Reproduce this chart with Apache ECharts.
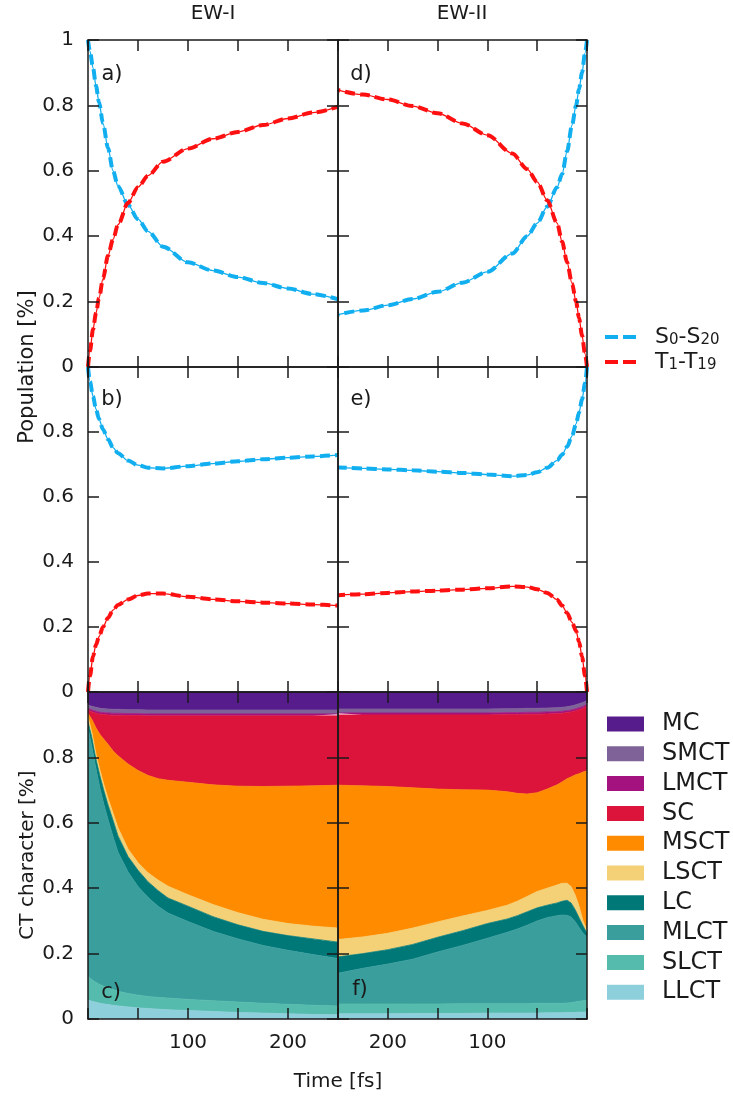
<!DOCTYPE html>
<html>
<head>
<meta charset="utf-8">
<script src="https://cdn.jsdelivr.net/npm/echarts@6/dist/echarts.min.js"></script>
<style>
  html, body { margin: 0; padding: 0; background: #fff; }
  #chart { width: 733px; height: 1107px; }
</style>
</head>
<body>
<div id="chart"></div>
<script>
// time grids [fs]
const timePop = [0, 2, 5, 8, 11, 15, 20, 25, 30, 40, 50, 60, 75, 100, 125, 150, 175, 200, 225, 250];
const timeCT = [0, 4, 8, 12, 16, 20, 25, 30, 40, 50, 60, 70, 80, 100, 125, 150, 175, 200, 225, 250];

// populations, EW-I (panels a, b) and EW-II (panels d, e)
const popA_S = [1.0, 0.965, 0.915, 0.86, 0.81, 0.745, 0.67, 0.6, 0.553, 0.496, 0.452, 0.415, 0.368, 0.32, 0.295, 0.275, 0.257, 0.24, 0.223, 0.207];
const popA_T = [0.0, 0.05, 0.115, 0.165, 0.21, 0.27, 0.34, 0.39, 0.435, 0.502, 0.55, 0.585, 0.628, 0.668, 0.698, 0.719, 0.74, 0.76, 0.778, 0.796];
const popB_S = [1.0, 0.955, 0.91, 0.87, 0.84, 0.808, 0.778, 0.752, 0.735, 0.712, 0.698, 0.69, 0.688, 0.695, 0.703, 0.71, 0.716, 0.721, 0.725, 0.729];
const popB_T = [0.0, 0.05, 0.11, 0.145, 0.17, 0.2, 0.228, 0.252, 0.268, 0.285, 0.297, 0.303, 0.303, 0.293, 0.285, 0.279, 0.275, 0.272, 0.269, 0.266];
const popD_S = [1.0, 0.96, 0.9, 0.85, 0.8, 0.74, 0.66, 0.59, 0.55, 0.49, 0.44, 0.4, 0.347, 0.291, 0.258, 0.23, 0.208, 0.189, 0.173, 0.16];
const popD_T = [0.0, 0.04, 0.097, 0.15, 0.2, 0.255, 0.32, 0.383, 0.44, 0.51, 0.566, 0.605, 0.653, 0.709, 0.745, 0.776, 0.798, 0.818, 0.833, 0.847];
const popE_S = [1.0, 0.95, 0.9, 0.86, 0.825, 0.788, 0.755, 0.73, 0.713, 0.69, 0.676, 0.668, 0.664, 0.669, 0.674, 0.678, 0.682, 0.685, 0.688, 0.691];
const popE_T = [0.0, 0.05, 0.11, 0.155, 0.188, 0.214, 0.243, 0.266, 0.284, 0.305, 0.316, 0.323, 0.325, 0.319, 0.315, 0.312, 0.309, 0.305, 0.301, 0.298];

// CT character, EW-I (panel c), bottom of stack first
const llct1 = [0.058, 0.054, 0.051, 0.048, 0.046, 0.044, 0.042, 0.040, 0.037, 0.034, 0.032, 0.030, 0.028, 0.026, 0.023, 0.020, 0.018, 0.016, 0.014, 0.013];
const slct1 = [0.072, 0.066, 0.061, 0.057, 0.054, 0.051, 0.048, 0.045, 0.041, 0.039, 0.037, 0.036, 0.036, 0.034, 0.033, 0.032, 0.030, 0.029, 0.028, 0.027];
const mlct1 = [0.760, 0.710, 0.653, 0.600, 0.555, 0.515, 0.468, 0.425, 0.372, 0.332, 0.303, 0.279, 0.260, 0.238, 0.212, 0.193, 0.177, 0.165, 0.155, 0.145];
const lc1   = [0.020, 0.030, 0.030, 0.038, 0.042, 0.045, 0.050, 0.050, 0.047, 0.050, 0.048, 0.048, 0.046, 0.047, 0.045, 0.043, 0.043, 0.045, 0.048, 0.050];
const lsct1 = [0.015, 0.015, 0.015, 0.017, 0.018, 0.020, 0.022, 0.025, 0.023, 0.023, 0.027, 0.032, 0.036, 0.035, 0.037, 0.037, 0.037, 0.037, 0.039, 0.043];
const msct1 = [0.010, 0.040, 0.080, 0.110, 0.140, 0.165, 0.190, 0.220, 0.260, 0.282, 0.298, 0.310, 0.324, 0.344, 0.366, 0.387, 0.406, 0.420, 0.429, 0.437];
const sc1   = [0.010, 0.024, 0.045, 0.062, 0.076, 0.090, 0.109, 0.124, 0.148, 0.168, 0.182, 0.192, 0.197, 0.203, 0.211, 0.215, 0.216, 0.215, 0.214, 0.212];
const lmct1 = [0.005, 0.006, 0.006, 0.006, 0.006, 0.006, 0.006, 0.006, 0.006, 0.006, 0.006, 0.006, 0.006, 0.006, 0.006, 0.006, 0.006, 0.006, 0.006, 0.006];
const smct1 = [0.010, 0.011, 0.012, 0.012, 0.012, 0.012, 0.012, 0.012, 0.012, 0.012, 0.012, 0.012, 0.012, 0.012, 0.012, 0.012, 0.012, 0.012, 0.012, 0.012];
const mc1   = [0.040, 0.044, 0.047, 0.050, 0.051, 0.052, 0.053, 0.053, 0.054, 0.054, 0.055, 0.055, 0.055, 0.055, 0.055, 0.055, 0.055, 0.055, 0.055, 0.055];

// CT character, EW-II (panel f)
const llct2 = [0.022, 0.021, 0.021, 0.020, 0.020, 0.020, 0.019, 0.019, 0.019, 0.018, 0.018, 0.018, 0.018, 0.018, 0.017, 0.017, 0.017, 0.016, 0.016, 0.016];
const slct2 = [0.036, 0.035, 0.033, 0.032, 0.030, 0.029, 0.029, 0.029, 0.029, 0.030, 0.029, 0.029, 0.029, 0.029, 0.030, 0.029, 0.029, 0.030, 0.030, 0.030];
const mlct2 = [0.192, 0.206, 0.226, 0.246, 0.262, 0.268, 0.270, 0.268, 0.262, 0.252, 0.240, 0.228, 0.218, 0.200, 0.178, 0.159, 0.137, 0.122, 0.109, 0.094];
const lc2   = [0.012, 0.023, 0.030, 0.037, 0.043, 0.046, 0.042, 0.039, 0.038, 0.040, 0.041, 0.041, 0.041, 0.045, 0.045, 0.045, 0.045, 0.044, 0.045, 0.050];
const lsct2 = [0.008, 0.015, 0.035, 0.045, 0.050, 0.052, 0.055, 0.055, 0.052, 0.050, 0.047, 0.044, 0.042, 0.040, 0.045, 0.047, 0.050, 0.050, 0.051, 0.053];
const msct2 = [0.489, 0.455, 0.405, 0.366, 0.335, 0.320, 0.310, 0.306, 0.303, 0.302, 0.313, 0.330, 0.347, 0.368, 0.386, 0.406, 0.429, 0.449, 0.462, 0.472];
const sc2   = [0.199, 0.195, 0.196, 0.196, 0.199, 0.202, 0.210, 0.218, 0.230, 0.240, 0.244, 0.241, 0.236, 0.230, 0.229, 0.227, 0.223, 0.219, 0.217, 0.215];
const lmct2 = [0.005, 0.006, 0.006, 0.006, 0.006, 0.006, 0.006, 0.006, 0.006, 0.006, 0.006, 0.006, 0.006, 0.006, 0.006, 0.006, 0.006, 0.006, 0.006, 0.006];
const smct2 = [0.010, 0.012, 0.012, 0.012, 0.012, 0.012, 0.012, 0.012, 0.012, 0.012, 0.012, 0.012, 0.012, 0.012, 0.012, 0.012, 0.012, 0.012, 0.012, 0.012];
const mc2   = [0.027, 0.032, 0.036, 0.040, 0.043, 0.045, 0.047, 0.048, 0.049, 0.050, 0.050, 0.051, 0.051, 0.052, 0.052, 0.052, 0.052, 0.052, 0.052, 0.052];

const ctNames = ['LLCT', 'SLCT', 'MLCT', 'LC', 'LSCT', 'MSCT', 'SC', 'LMCT', 'SMCT', 'MC'];
const ctColors = ['#8ecfdc', '#55bbac', '#3a9e9d', '#007878', '#f4d176', '#ff8c00', '#dc143c', '#a3127f', '#7e6298', '#571c8c'];
const ctEW1 = [llct1, slct1, mlct1, lc1, lsct1, msct1, sc1, lmct1, smct1, mc1];
const ctEW2 = [llct2, slct2, mlct2, lc2, lsct2, msct2, sc2, lmct2, smct2, mc2];

const nameS = 'S0-S20';
const nameT = 'T1-T19';
const blue = '#12aff0';
const red = '#ff1010';

const FONT = 'DejaVu Sans';
const INK = '#1a1a1a';

// panel layout: rows a/d, b/e, c/f
const panelLeft = [88, 338];
const panelWidth = [250, 249];
const panelTop = [40, 367, 692];
const panelHeight = [327, 325, 327];

const grids = [];
const xAxes = [];
const yAxes = [];
for (let row = 0; row < 3; row++) {
  for (let col = 0; col < 2; col++) {
    const gi = grids.length;
    grids.push({ left: panelLeft[col], top: panelTop[row], width: panelWidth[col], height: panelHeight[row] });
    ['bottom', 'top'].forEach(pos => xAxes.push({
      gridIndex: gi, type: 'value', position: pos, min: 0, max: 250, interval: 50,
      inverse: col === 1, z: 10,
      axisLine: { show: true, onZero: false, lineStyle: { color: INK, width: 1.5 } },
      axisTick: { show: true, inside: true, length: 11, lineStyle: { color: INK, width: 1.5 } },
      axisLabel: {
        show: pos === 'bottom' && row === 2, margin: 14, fontSize: 20, fontFamily: FONT, color: INK,
        formatter: v => (v === 100 || v === 200) ? String(v) : ''
      },
      splitLine: { show: false }
    }));
    ['left', 'right'].forEach(pos => yAxes.push({
      gridIndex: gi, type: 'value', position: pos, min: 0, max: 1, interval: 0.2, z: 10,
      axisLine: { show: true, onZero: false, lineStyle: { color: INK, width: 1.5 } },
      axisTick: { show: true, inside: true, length: 11, lineStyle: { color: INK, width: 1.5 } },
      axisLabel: {
        show: pos === 'left' && col === 0, margin: 14, fontSize: 20, fontFamily: FONT, color: INK,
        formatter: v => (row > 0 && v >= 0.999) ? '' : String(+v.toFixed(1))
      },
      splitLine: { show: false }
    }));
  }
}

function popSeries(gi, name, color, values) {
  const data = timePop.map((t, k) => [t, values[k]]);
  const base = {
    type: 'line', name, xAxisIndex: 2 * gi, yAxisIndex: 2 * gi, data,
    symbol: 'none', smooth: 0.3, smoothMonotone: 'x', itemStyle: { color }
  };
  return [
    Object.assign({}, base, { lineStyle: { color, width: 1.3 }, z: 3 }),
    Object.assign({}, base, { lineStyle: { color, width: 4, type: [10, 5] }, z: 4 })
  ];
}

// value first, time second, so the stack runs on the fraction, not on time
function ctSeries(gi, stack, arrays) {
  return arrays.map((vals, k) => ({
    type: 'line', name: ctNames[k], stack, xAxisIndex: 2 * gi, yAxisIndex: 2 * gi,
    dimensions: ['frac', 'time'],
    encode: { x: 'time', y: 'frac' },
    data: timeCT.map((t, j) => [vals[j], t]),
    symbol: 'none',
    itemStyle: { color: ctColors[k] },
    lineStyle: { color: ctColors[k], width: 0.8 },
    areaStyle: { color: ctColors[k], opacity: 1 }
  }));
}

const series = [].concat(
  popSeries(0, nameS, blue, popA_S), popSeries(0, nameT, red, popA_T),
  popSeries(1, nameS, blue, popD_S), popSeries(1, nameT, red, popD_T),
  popSeries(2, nameS, blue, popB_S), popSeries(2, nameT, red, popB_T),
  popSeries(3, nameS, blue, popE_S), popSeries(3, nameT, red, popE_T),
  ctSeries(4, 'ew1', ctEW1),
  ctSeries(5, 'ew2', ctEW2)
);

function txt(text, x, y, size, rot) {
  return {
    type: 'text', x, y, rotation: rot || 0, z: 20,
    style: { text, fontSize: size, fontFamily: FONT, fill: INK, align: 'center', verticalAlign: 'middle', textAlign: 'center', textVerticalAlign: 'middle' }
  };
}

// legend labels with real subscripts
const subLabel = {
  [nameS]: '{m0|S}{s|0}{m|-S}{s|20}',
  [nameT]: '{m0|T}{s|1}{m|-T}{s|19}'
};
const mainTok = { fontSize: 22, lineHeight: 22, verticalAlign: 'top', fontFamily: FONT, color: INK };
const subTok = { fontSize: 15, lineHeight: 15, verticalAlign: 'bottom', fontFamily: FONT, color: INK };

const chart = echarts.init(document.getElementById('chart'));
chart.setOption({
  animation: false,
  backgroundColor: '#fff',
  grid: grids,
  xAxis: xAxes,
  yAxis: yAxes,
  legend: [
    {
      data: [nameS, nameT], orient: 'vertical', left: 600, top: 321, selectedMode: false,
      icon: 'path://M0,0H13V4H0ZM18,0H31V4H18Z', itemWidth: 31, itemHeight: 4, itemGap: 3,
      formatter: n => subLabel[n],
      textStyle: { fontSize: 22, lineHeight: 26, fontFamily: FONT, color: INK,
        rich: {
          m0: Object.assign({}, mainTok, { padding: [0, 0, 0, 14] }),
          m: mainTok,
          s: subTok
        } }
    },
    {
      data: ['MC', 'SMCT', 'LMCT', 'SC', 'MSCT', 'LSCT', 'LC', 'MLCT', 'SLCT', 'LLCT'],
      orient: 'vertical', left: 602, top: 707, selectedMode: false,
      icon: 'rect', itemWidth: 37, itemHeight: 15, itemGap: 5.8,
      formatter: n => '{t|' + n + '}',
      textStyle: { fontSize: 24, lineHeight: 24, fontFamily: FONT, color: INK,
        rich: { t: { fontSize: 24, lineHeight: 24, fontFamily: FONT, color: INK, padding: [0, 0, 0, 13] } } }
    }
  ],
  graphic: [
    txt('EW-I', 213, 14, 20),
    txt('EW-II', 462, 14, 20),
    txt('Population [%]', 28, 367, 21, Math.PI / 2),
    txt('CT character [%]', 28, 855, 20, Math.PI / 2),
    txt('Time [fs]', 338, 1082, 20),
    txt('a)', 112, 75, 21), txt('d)', 361, 75, 21),
    txt('b)', 112, 400, 21), txt('e)', 361, 400, 21),
    txt('c)', 111, 993, 21), txt('f)', 360, 990, 21)
  ],
  series
});
</script>
</body>
</html>
